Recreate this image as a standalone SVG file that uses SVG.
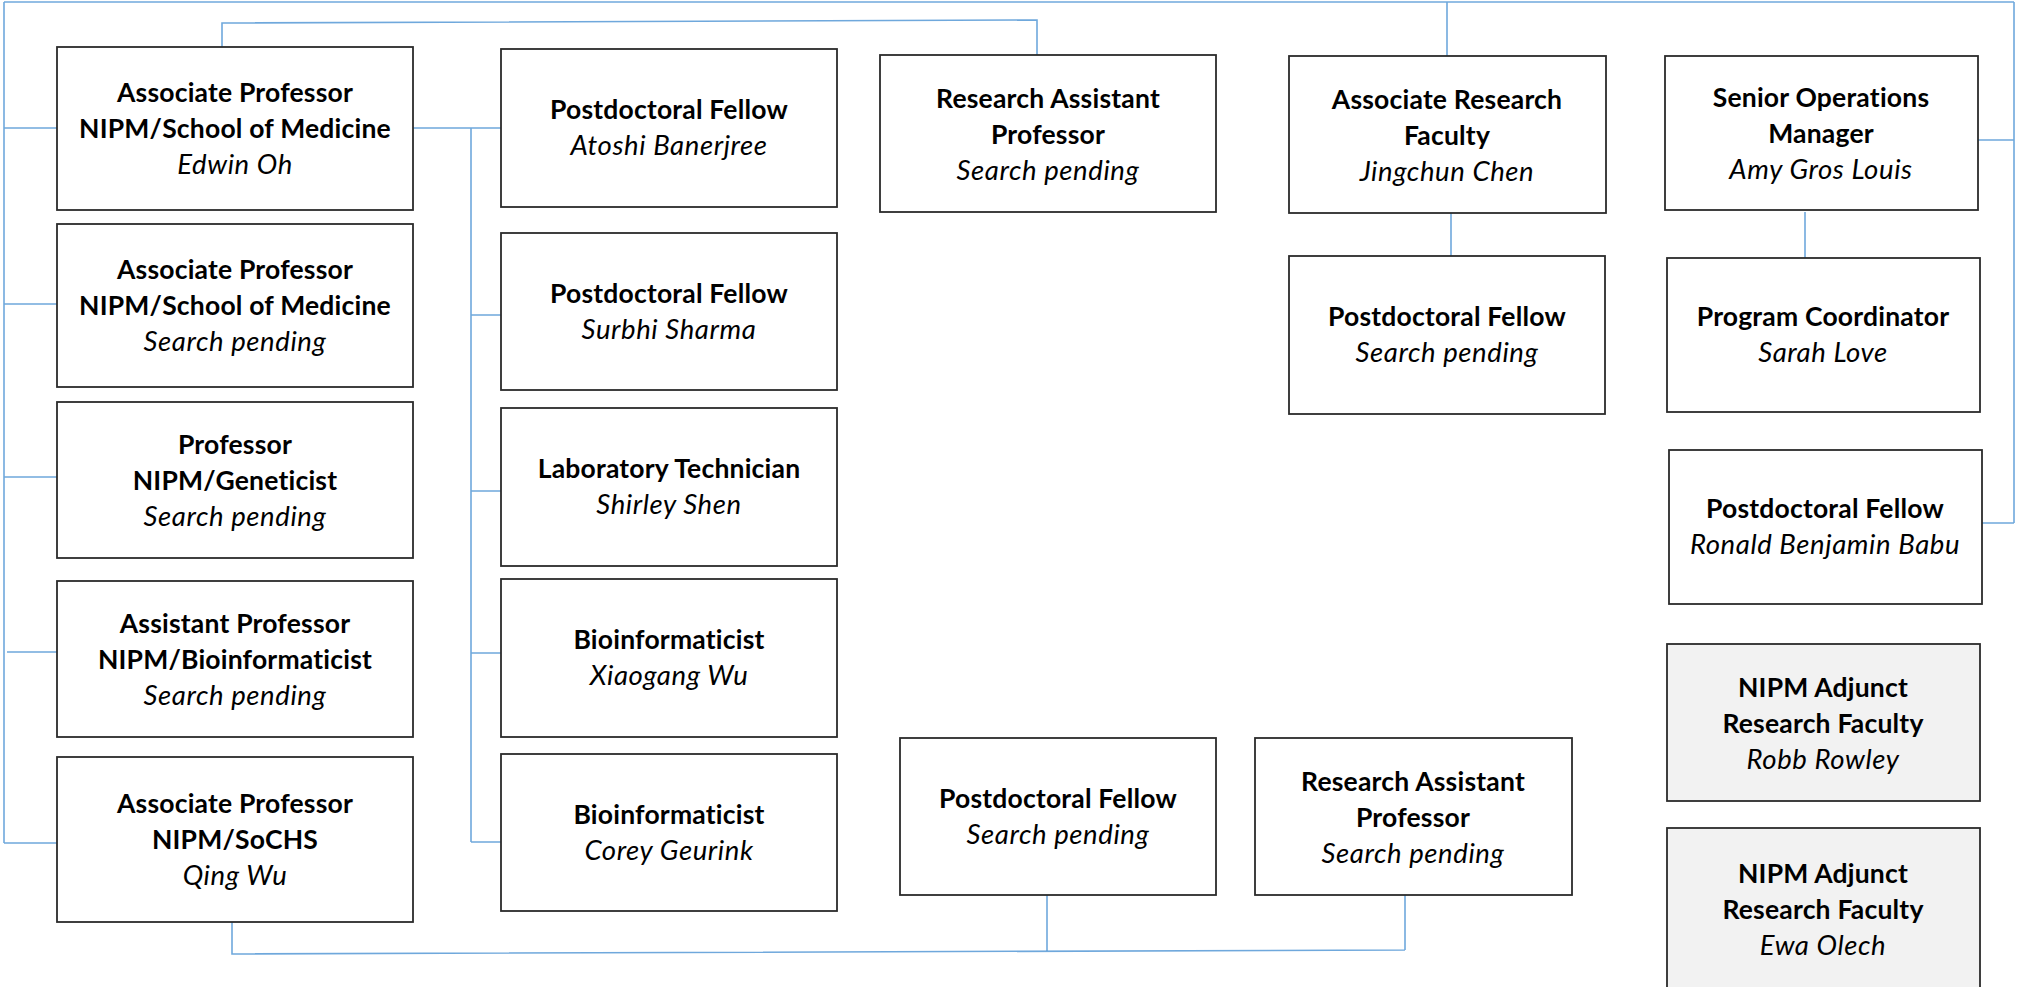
<svg xmlns="http://www.w3.org/2000/svg" width="2018" height="987" viewBox="0 0 2018 987">
<style>
.box{fill:#ffffff;stroke:#2b2b2b;stroke-width:1.8}
.adj{fill:#f2f2f2;stroke:#2b2b2b;stroke-width:1.8}
.t{font-family:Lato,"Open Sans","Liberation Sans",sans-serif;fill:#000;text-anchor:middle}
.b{font-weight:bold;font-size:26.5px;letter-spacing:0.2px}
.i{font-style:italic;font-size:27.5px;letter-spacing:0.6px}
.c{fill:none;stroke:#6fa8dc;stroke-width:1.6}
</style>
<rect width="2018" height="987" fill="#ffffff"/>
<g id="connectors">
<path class="c" d="M4,2 H2014"/>
<path class="c" d="M4,2 V843"/>
<path class="c" d="M4,128 H57 M4,304 H57 M4,477 H57 M7,652 H57 M4,843 H57"/>
<path class="c" d="M222,49 V23 L1037,20 V55"/>
<path class="c" d="M1447,2 V56"/>
<path class="c" d="M2014,2 V523 M1978,140 H2014 M1982,523 H2014"/>
<path class="c" d="M413,128 H501 M471,128 V842 M471,315 H501 M471,491 H501 M471,653 H501 M471,842 H501"/>
<path class="c" d="M1451,213 V256"/>
<path class="c" d="M1805,212 V258"/>
<path class="c" d="M232,922 V954 L1405,950 M1047,895 V951 M1405,895 V950"/>
</g>
<g id="n_l1"><rect class="box" x="57" y="47" width="356" height="163"/>
<text class="t b" x="235" y="102">Associate Professor</text><text class="t b" x="235" y="138">NIPM/School of Medicine</text><text class="t i" x="235" y="174">Edwin Oh</text></g>
<g id="n_l2"><rect class="box" x="57" y="224" width="356" height="163"/>
<text class="t b" x="235" y="279">Associate Professor</text><text class="t b" x="235" y="315">NIPM/School of Medicine</text><text class="t i" x="235" y="351">Search pending</text></g>
<g id="n_l3"><rect class="box" x="57" y="402" width="356" height="156"/>
<text class="t b" x="235" y="454">Professor</text><text class="t b" x="235" y="490">NIPM/Geneticist</text><text class="t i" x="235" y="526">Search pending</text></g>
<g id="n_l4"><rect class="box" x="57" y="581" width="356" height="156"/>
<text class="t b" x="235" y="633">Assistant Professor</text><text class="t b" x="235" y="669">NIPM/Bioinformaticist</text><text class="t i" x="235" y="705">Search pending</text></g>
<g id="n_l5"><rect class="box" x="57" y="757" width="356" height="165"/>
<text class="t b" x="235" y="813">Associate Professor</text><text class="t b" x="235" y="849">NIPM/SoCHS</text><text class="t i" x="235" y="885">Qing Wu</text></g>
<g id="n_c1"><rect class="box" x="501" y="49" width="336" height="158"/>
<text class="t b" x="669" y="119">Postdoctoral Fellow</text><text class="t i" x="669" y="155">Atoshi Banerjree</text></g>
<g id="n_c2"><rect class="box" x="501" y="233" width="336" height="157"/>
<text class="t b" x="669" y="303">Postdoctoral Fellow</text><text class="t i" x="669" y="339">Surbhi Sharma</text></g>
<g id="n_c3"><rect class="box" x="501" y="408" width="336" height="158"/>
<text class="t b" x="669" y="478">Laboratory Technician</text><text class="t i" x="669" y="514">Shirley Shen</text></g>
<g id="n_c4"><rect class="box" x="501" y="579" width="336" height="158"/>
<text class="t b" x="669" y="649">Bioinformaticist</text><text class="t i" x="669" y="685">Xiaogang Wu</text></g>
<g id="n_c5"><rect class="box" x="501" y="754" width="336" height="157"/>
<text class="t b" x="669" y="824">Bioinformaticist</text><text class="t i" x="669" y="860">Corey Geurink</text></g>
<g id="n_rap"><rect class="box" x="880" y="55" width="336" height="157"/>
<text class="t b" x="1048" y="108">Research Assistant</text><text class="t b" x="1048" y="144">Professor</text><text class="t i" x="1048" y="180">Search pending</text></g>
<g id="n_arf"><rect class="box" x="1289" y="56" width="317" height="157"/>
<text class="t b" x="1447" y="109">Associate Research</text><text class="t b" x="1447" y="145">Faculty</text><text class="t i" x="1447" y="181">Jingchun Chen</text></g>
<g id="n_pf2"><rect class="box" x="1289" y="256" width="316" height="158"/>
<text class="t b" x="1447" y="326">Postdoctoral Fellow</text><text class="t i" x="1447" y="362">Search pending</text></g>
<g id="n_som"><rect class="box" x="1665" y="56" width="313" height="154"/>
<text class="t b" x="1821" y="107">Senior Operations</text><text class="t b" x="1821" y="143">Manager</text><text class="t i" x="1821" y="179">Amy Gros Louis</text></g>
<g id="n_pc"><rect class="box" x="1667" y="258" width="313" height="154"/>
<text class="t b" x="1823" y="326">Program Coordinator</text><text class="t i" x="1823" y="362">Sarah Love</text></g>
<g id="n_pf3"><rect class="box" x="1669" y="450" width="313" height="154"/>
<text class="t b" x="1825" y="518">Postdoctoral Fellow</text><text class="t i" x="1825" y="554">Ronald Benjamin Babu</text></g>
<g id="n_adj1"><rect class="adj" x="1667" y="644" width="313" height="157"/>
<text class="t b" x="1823" y="697">NIPM Adjunct</text><text class="t b" x="1823" y="733">Research Faculty</text><text class="t i" x="1823" y="769">Robb Rowley</text></g>
<g id="n_adj2"><rect class="adj" x="1667" y="828" width="313" height="162"/>
<text class="t b" x="1823" y="883">NIPM Adjunct</text><text class="t b" x="1823" y="919">Research Faculty</text><text class="t i" x="1823" y="955">Ewa Olech</text></g>
<g id="n_pf4"><rect class="box" x="900" y="738" width="316" height="157"/>
<text class="t b" x="1058" y="808">Postdoctoral Fellow</text><text class="t i" x="1058" y="844">Search pending</text></g>
<g id="n_rap2"><rect class="box" x="1255" y="738" width="317" height="157"/>
<text class="t b" x="1413" y="791">Research Assistant</text><text class="t b" x="1413" y="827">Professor</text><text class="t i" x="1413" y="863">Search pending</text></g>
</svg>
